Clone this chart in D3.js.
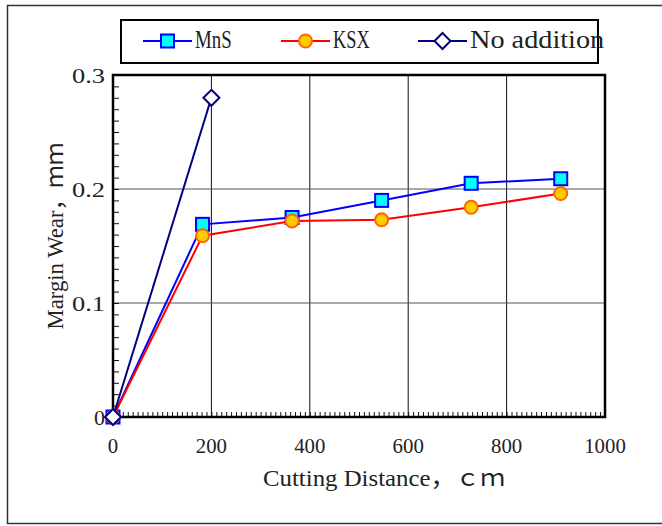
<!DOCTYPE html>
<html>
<head>
<meta charset="utf-8">
<script src="https://cdn.jsdelivr.net/npm/d3@7"></script>
<style>
  body { margin: 0; background: #fff; }
  text { font-family: "Liberation Serif", "Noto Sans CJK SC", serif; fill: #222; }
</style>
</head>
<body>
<script>
// data
const mnsX = [0, 182, 364, 546, 728, 910];
const mnsY = [0, 0.169, 0.175, 0.190, 0.205, 0.209];
const ksxX = [0, 182, 364, 546, 728, 910];
const ksxY = [0, 0.159, 0.172, 0.173, 0.184, 0.196];
const noAddX = [0, 200];
const noAddY = [0, 0.280];
const xTicks = [0, 200, 400, 600, 800, 1000];
const yTicks = [0, 0.1, 0.2, 0.3];
const yTickLabels = ['0', '0.1', '0.2', '0.3'];
const seriesNames = ['MnS', 'KSX', 'No addition'];

const W = 662, H = 526;
const margin = { top: 75, right: 57, bottom: 109, left: 113 };
const width = W - margin.left - margin.right;
const height = H - margin.top - margin.bottom;

// the original font is a fixed-pitch one: every ascii char takes the same cell,
// full width chars take two cells
function cells(str) {
  let n = 0;
  for (const ch of str) n += ch.charCodeAt(0) > 0xff ? 2 : 1;
  return n;
}
function monoText(sel, str, size, cellW) {
  sel.style('font-size', size + 'px')
    .attr('textLength', cells(str) * cellW)
    .attr('lengthAdjust', 'spacingAndGlyphs')
    .text(str);
  return sel;
}

const svg = d3.select('body')
  .append('svg')
  .attr('width', W)
  .attr('height', H);

// outer frame
svg.append('rect')
  .attr('x', 7.5).attr('y', 5.5)
  .attr('width', 670).attr('height', 518)
  .attr('fill', 'none')
  .attr('stroke', '#333')
  .attr('stroke-width', 1.5);

const g = svg.append('g')
  .attr('transform', `translate(${margin.left},${margin.top})`);

const x = d3.scaleLinear().domain([0, 1000]).range([0, width]);
const y = d3.scaleLinear().domain([0, 0.3]).range([height, 0]);

// grid lines
g.selectAll('.vgrid')
  .data(xTicks.slice(1, -1))
  .enter().append('line')
  .attr('x1', d => x(d)).attr('x2', d => x(d))
  .attr('y1', 0).attr('y2', height)
  .attr('stroke', '#111').attr('stroke-width', 1);

g.selectAll('.hgrid')
  .data(yTicks.slice(1, -1))
  .enter().append('line')
  .attr('x1', 0).attr('x2', width)
  .attr('y1', d => y(d)).attr('y2', d => y(d))
  .attr('stroke', '#555').attr('stroke-width', 1);

// minor ticks, pointing inward
const xAxis = d3.axisTop(x).ticks(100).tickSize(5).tickFormat('');
g.append('g')
  .attr('transform', `translate(0,${height})`)
  .call(xAxis)
  .call(a => a.select('.domain').remove())
  .call(a => a.selectAll('line').attr('stroke', '#111'));

const yAxis = d3.axisRight(y).ticks(30).tickSize(6).tickFormat('');
g.append('g')
  .call(yAxis)
  .call(a => a.select('.domain').remove())
  .call(a => a.selectAll('line').attr('stroke', '#111'));

// tick labels
g.selectAll('.xlab')
  .data(xTicks)
  .enter().append('text')
  .attr('x', d => x(d))
  .attr('y', height + 36)
  .attr('text-anchor', 'middle')
  .each(function (d) { monoText(d3.select(this), String(d), 20, 10.4); });

g.selectAll('.ylab')
  .data(yTicks)
  .enter().append('text')
  .attr('x', -8)
  .attr('y', d => y(d) + 7.5)
  .attr('text-anchor', 'end')
  .each(function (d, i) { monoText(d3.select(this), yTickLabels[i], 20, 11); });

// axis titles
monoText(svg.append('text')
  .attr('x', 384)
  .attr('y', 486)
  .attr('text-anchor', 'middle'), 'Cutting Distance，ｃｍ', 24, 11);

monoText(svg.append('text')
  .attr('transform', 'translate(63,236) rotate(-90)')
  .attr('text-anchor', 'middle'), 'Margin Wear，ｍｍ', 23, 11);

// plot frame
g.append('rect')
  .attr('x', 0).attr('y', 0)
  .attr('width', width).attr('height', height)
  .attr('fill', 'none')
  .attr('stroke', '#000')
  .attr('stroke-width', 2.5);

const line = d3.line()
  .x(d => x(d[0]))
  .y(d => y(d[1]));

const series = [
  { xs: mnsX, ys: mnsY, color: '#0000ff', marker: 'square' },
  { xs: ksxX, ys: ksxY, color: '#ff0000', marker: 'circle' },
  { xs: noAddX, ys: noAddY, color: '#000080', marker: 'diamond' }
];

function drawMarker(sel, type) {
  if (type === 'square') {
    sel.append('rect')
      .attr('x', -6.5).attr('y', -6.5)
      .attr('width', 13).attr('height', 13)
      .attr('fill', '#00ffff')
      .attr('stroke', '#0000ff')
      .attr('stroke-width', 2);
  } else if (type === 'circle') {
    sel.append('circle')
      .attr('r', 6.5)
      .attr('fill', '#ffcc00')
      .attr('stroke', '#ff6600')
      .attr('stroke-width', 2);
  } else {
    sel.append('path')
      .attr('d', 'M0,-8L8,0L0,8L-8,0Z')
      .attr('fill', '#fff')
      .attr('stroke', '#000080')
      .attr('stroke-width', 2);
  }
}

series.forEach(s => {
  const pts = s.xs.map((v, i) => [v, s.ys[i]]);
  g.append('path')
    .datum(pts)
    .attr('fill', 'none')
    .attr('stroke', s.color)
    .attr('stroke-width', 2)
    .attr('d', line);
  pts.forEach(p => {
    const m = g.append('g').attr('transform', `translate(${x(p[0])},${y(p[1])})`);
    drawMarker(m, s.marker);
  });
});

// legend
const legend = svg.append('g');
legend.append('rect')
  .attr('x', 121).attr('y', 20)
  .attr('width', 477).attr('height', 43)
  .attr('fill', '#fff')
  .attr('stroke', '#000')
  .attr('stroke-width', 2);

const legendX = [143, 281, 418];
series.forEach((s, i) => {
  const item = legend.append('g').attr('transform', `translate(${legendX[i]},41)`);
  item.append('line')
    .attr('x1', 0).attr('x2', 49)
    .attr('stroke', s.color).attr('stroke-width', 2);
  drawMarker(item.append('g').attr('transform', 'translate(24.5,0)'), s.marker);
  monoText(item.append('text')
    .attr('x', 52).attr('y', 6.5), seriesNames[i], 25, 12.2);
});
</script>
</body>
</html>
